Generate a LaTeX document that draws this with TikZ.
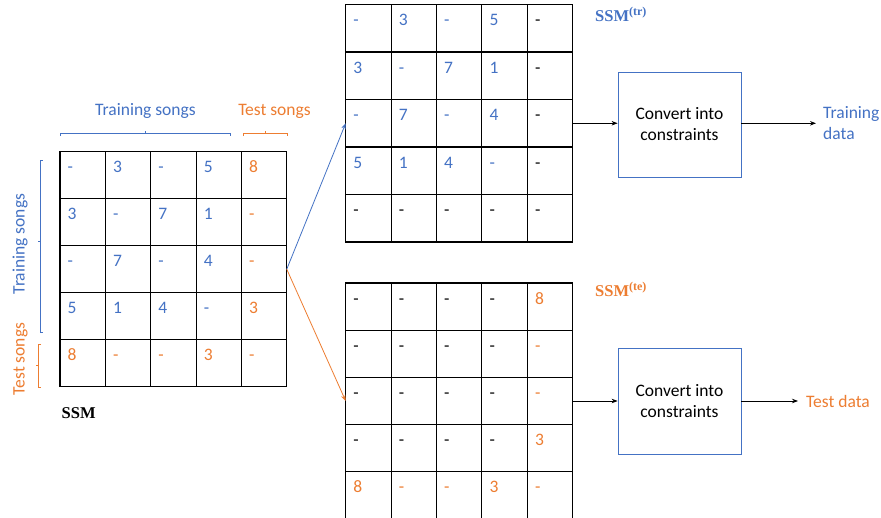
\documentclass[tikz,border=0pt]{standalone}
\usepackage{fontspec}
\setmainfont{Carlito}
\newfontfamily\labelserif{Liberation Serif}
\usetikzlibrary{arrows.meta,calc}
\definecolor{songblue}{HTML}{4472C4}
\definecolor{songorange}{HTML}{ED7D31}

\tikzset{
  cell/.style={minimum width=45.4pt, inner sep=0pt, outer sep=0pt, anchor=north west},
  gridline/.style={draw=black, line width=1.1pt, line cap=rect},
  entry/.style={anchor=base west, inner sep=0pt, font=\fontsize{17.5}{21}\selectfont},
  caption/.style={inner sep=0pt, font=\fontsize{17.5}{21}\selectfont},
  brace/.style={line width=0.8pt},
  procbox/.style={draw=songblue, line width=0.8pt, minimum width=123pt, align=center,
                  inner sep=0pt, font=\fontsize{17.5}{21}\selectfont},
  flow/.style={line width=0.8pt, -{Stealth[length=6pt,width=4.5pt]}},
  ssmlabel/.style={anchor=base west, inner sep=0pt, font=\labelserif\bfseries\fontsize{16.5}{19}\selectfont},
}
\newcommand{\ssmsup}[1]{SSM\raisebox{5.5pt}{\fontsize{12}{13}\selectfont(#1)}}
% grid lines of a 5x5 block of cells named #1-r-c
\newcommand{\cellgrid}[1]{%
  \foreach \i in {1,...,5} {
    \draw[gridline] (#1-1-\i.north west) -- (#1-5-\i.south west);
    \draw[gridline] (#1-\i-1.north west) -- (#1-\i-5.north east);
  }
  \draw[gridline] (#1-1-5.north east) -- (#1-5-5.south east);
  \draw[gridline] (#1-5-1.south west) -- (#1-5-5.south east);
}

\begin{document}
\begin{tikzpicture}[x=1pt,y=-1pt]
\clip (0,0) rectangle (881,517);
\fill[white] (0,0) rectangle (881,517);

% ---- full similarity matrix (left) ----
\foreach \r in {1,...,5}
  \foreach \c in {1,...,5}
    \node[cell, minimum width=45.35pt, minimum height=47pt] (L-\r-\c) at ({60+(\c-1)*45.35},{151.7+(\r-1)*47}) {};
\cellgrid{L}
\foreach \r/\c/\t/\k in {
  1/1/-/songblue, 1/2/3/songblue, 1/3/-/songblue, 1/4/5/songblue, 1/5/8/songorange,
  2/1/3/songblue, 2/2/-/songblue, 2/3/7/songblue, 2/4/1/songblue, 2/5/-/songorange,
  3/1/-/songblue, 3/2/7/songblue, 3/3/-/songblue, 3/4/4/songblue, 3/5/-/songorange,
  4/1/5/songblue, 4/2/1/songblue, 4/3/4/songblue, 4/4/-/songblue, 4/5/3/songorange,
  5/1/8/songorange, 5/2/-/songorange, 5/3/-/songorange, 5/4/3/songorange, 5/5/-/songorange}
  \node[entry, text=\k] (Lx-\r-\c) at ($(L-\r-\c.north west)+(7.5,21)$) {\t};

% ---- training part (top right) ----
\foreach \r in {1,...,5}
  \foreach \c in {1,...,5}
    \node[cell, minimum height=47.5pt] (T-\r-\c) at ({345.7+(\c-1)*45.4},{4.5+(\r-1)*47.5}) {};
\cellgrid{T}
\foreach \r/\c/\t/\k in {
  1/1/-/songblue, 1/2/3/songblue, 1/3/-/songblue, 1/4/5/songblue, 1/5/-/black,
  2/1/3/songblue, 2/2/-/songblue, 2/3/7/songblue, 2/4/1/songblue, 2/5/-/black,
  3/1/-/songblue, 3/2/7/songblue, 3/3/-/songblue, 3/4/4/songblue, 3/5/-/black,
  4/1/5/songblue, 4/2/1/songblue, 4/3/4/songblue, 4/4/-/songblue, 4/5/-/black,
  5/1/-/black, 5/2/-/black, 5/3/-/black, 5/4/-/black, 5/5/-/black}
  \node[entry, text=\k] (Tx-\r-\c) at ($(T-\r-\c.north west)+(7.5,21)$) {\t};

% ---- test part (bottom right) ----
\foreach \r in {1,...,5}
  \foreach \c in {1,...,5}
    \node[cell, minimum height=47.2pt] (E-\r-\c) at ({345.7+(\c-1)*45.4},{283+(\r-1)*47.2}) {};
\cellgrid{E}
\foreach \r/\c/\t/\k in {
  1/1/-/black, 1/2/-/black, 1/3/-/black, 1/4/-/black, 1/5/8/songorange,
  2/1/-/black, 2/2/-/black, 2/3/-/black, 2/4/-/black, 2/5/-/songorange,
  3/1/-/black, 3/2/-/black, 3/3/-/black, 3/4/-/black, 3/5/-/songorange,
  4/1/-/black, 4/2/-/black, 4/3/-/black, 4/4/-/black, 4/5/3/songorange,
  5/1/8/songorange, 5/2/-/songorange, 5/3/-/songorange, 5/4/3/songorange, 5/5/-/songorange}
  \node[entry, text=\k] (Ex-\r-\c) at ($(E-\r-\c.north west)+(7.5,21)$) {\t};

% ---- matrix labels ----
\node[ssmlabel] (ssm) at (61.5,418.5) {SSM};
\node[ssmlabel, text=songblue] (ssmtr) at (595,21) {\ssmsup{tr}};
\node[ssmlabel, text=songorange] (ssmte) at (595,296) {\ssmsup{te}};

% ---- braces and group captions ----
\node[caption, anchor=base, text=songblue] (trtop) at (145.5,115.5) {Training songs};
\node[caption, anchor=base, text=songorange] (tetop) at (274.5,115.5) {Test songs};
\draw[brace, songblue] (60,136) -- (60,133.3) -- (230,133.3) -- (230,136) (145,133.3) -- (145,131);
\draw[brace, songorange] (243,136) -- (243,133.3) -- (287,133.3) -- (287,136) (265,133.3) -- (265,131);

\node[caption, anchor=base, rotate=90, text=songblue] (trside) at (24.5,244) {Training songs};
\node[caption, anchor=base, rotate=90, text=songorange] (teside) at (24.5,359) {Test songs};
\draw[brace, songblue] (42.5,160.7) -- (40,160.7) -- (40,332.7) -- (42.5,332.7) (40,241.7) -- (37.8,241.7);
\draw[brace, songorange] (41,344) -- (38.5,344) -- (38.5,387) -- (41,387) (38.5,365.5) -- (36.3,365.5);

% ---- split arrows ----
\draw[flow, songblue] (L-3-5.east) -- (T-3-1.west);
\draw[flow, songorange] (L-3-5.east) -- (E-3-1.west);

% ---- conversion steps ----
\node[procbox, minimum height=105pt] (conv1) at (679.5,124.5) {Convert into\\constraints};
\node[procbox, minimum height=106pt] (conv2) at (679.5,401) {Convert into\\constraints};

\node[caption, anchor=west, align=left, text=songblue, inner xsep=7pt] (trdata) at (816,123.3) {Training\\data};
\node[caption, anchor=west, text=songorange, inner xsep=8pt] (tedata) at (798,401) {Test data};

\draw[flow] (T-3-5.east) -- (T-3-5.east -| conv1.west);
\draw[flow] (conv1.east |- trdata.west) -- (trdata.west);
\draw[flow] (E-3-5.east) -- (E-3-5.east -| conv2.west);
\draw[flow] (conv2.east |- tedata.west) -- (tedata.west);
\end{tikzpicture}
\end{document}
